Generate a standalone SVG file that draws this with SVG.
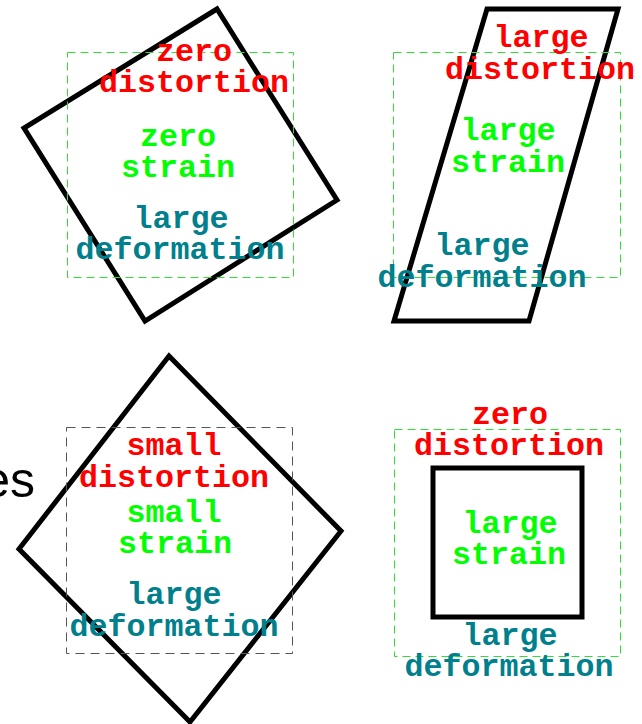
<svg xmlns="http://www.w3.org/2000/svg" width="642" height="724" viewBox="0 0 642 724">
<style>
.shape{fill:none;stroke:#000;stroke-width:5;stroke-linejoin:miter}
.gbox{fill:none;stroke:#33dd33;stroke-width:1;stroke-dasharray:8,5}
.kbox{fill:none;stroke:#555;stroke-width:1;stroke-dasharray:9,6}
text.t{font-family:"Liberation Mono","Courier New",monospace;font-weight:bold;font-size:31.7px;text-anchor:middle}
.r{fill:#ff0000}
.g{fill:#00ff00}
.b{fill:#00808c}
.es{font-family:"Liberation Sans",Arial,sans-serif;font-size:50px;fill:#000;text-anchor:end}
</style>
<rect width="642" height="724" fill="#fff"/>
<text class="es" x="35" y="497">es</text>
<g id="panel-rotation">
<polygon class="shape" points="217,9 24,128 145,321 337,200"/>
<rect class="gbox" x="67.5" y="52.5" width="226" height="225"/>
<text class="t r" x="194" y="61">zero</text>
<text class="t r" x="194" y="92">distortion</text>
<text class="t g" x="178" y="146">zero</text>
<text class="t g" x="178" y="177">strain</text>
<text class="t b" x="181" y="228">large</text>
<text class="t b" x="180" y="259">deformation</text>
</g>
<g id="panel-shear">
<polygon class="shape" points="487,9 618,9 529,321 394,321"/>
<rect class="gbox" x="393.5" y="52.5" width="227" height="225"/>
<text class="t r" x="541" y="47">large</text>
<text class="t r" x="540" y="79">distortion</text>
<text class="t g" x="508" y="140">large</text>
<text class="t g" x="508" y="172">strain</text>
<text class="t b" x="482" y="255">large</text>
<text class="t b" x="482" y="287">deformation</text>
</g>
<g id="panel-diamond">
<polygon class="shape" points="169,356 341,531 190,722 19,549"/>
<rect class="kbox" x="66.5" y="427.5" width="226" height="226"/>
<text class="t r" x="174" y="455">small</text>
<text class="t r" x="174" y="487">distortion</text>
<text class="t g" x="174" y="522">small</text>
<text class="t g" x="175" y="553">strain</text>
<text class="t b" x="174" y="604">large</text>
<text class="t b" x="174" y="636">deformation</text>
</g>
<g id="panel-square">
<rect class="shape" x="433" y="468" width="149" height="149"/>
<rect class="gbox" x="394.5" y="429.5" width="226" height="227"/>
<text class="t r" x="510" y="424">zero</text>
<text class="t r" x="509" y="455">distortion</text>
<text class="t g" x="510" y="533">large</text>
<text class="t g" x="509" y="564">strain</text>
<text class="t b" x="510" y="645">large</text>
<text class="t b" x="509" y="676">deformation</text>
</g>
<g id="connectors"></g>
</svg>
